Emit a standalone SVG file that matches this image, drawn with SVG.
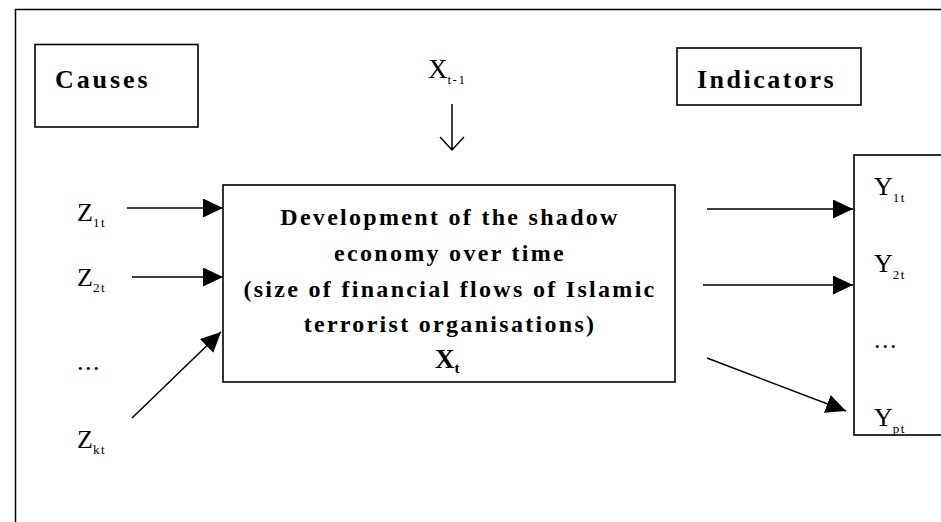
<svg xmlns="http://www.w3.org/2000/svg" width="941" height="522" viewBox="0 0 941 522">
<style>
.box{fill:#fff;stroke:#000;stroke-width:1.6}
.frame{fill:none;stroke:#000;stroke-width:1.5}
.lbl{font-family:"Liberation Serif","Times New Roman",serif;font-weight:bold;font-size:26px;letter-spacing:2.9px;fill:#000}
.main{font-family:"Liberation Serif","Times New Roman",serif;font-weight:bold;font-size:24px;letter-spacing:2.3px;fill:#000;text-anchor:middle}
.var{font-family:"Liberation Serif","Times New Roman",serif;font-size:26px;fill:#000}
.sub{font-size:13px;letter-spacing:1.5px}
.con{stroke:#000;stroke-width:1.5;fill:none}
</style>
<defs>
<marker id="ah" markerUnits="userSpaceOnUse" markerWidth="21" markerHeight="20" refX="20" refY="9.5" orient="auto">
<path d="M0,0 L20,9.5 L0,19 z" fill="#000"/>
</marker>
</defs>
<rect class="frame" x="15.5" y="9.5" width="960" height="540"/>
<g id="causes">
<rect class="box" x="35" y="44.5" width="163" height="82.5"/>
<text class="lbl" x="55" y="88">Causes</text>
</g>
<g id="indicators">
<rect class="box" x="677" y="48" width="184" height="57"/>
<text class="lbl" x="697" y="88" style="letter-spacing:2.5px">Indicators</text>
</g>
<g id="xprev">
<text class="var" x="428" y="78" style="font-size:27px">X<tspan class="sub" dy="6">t-1</tspan></text>
</g>
<g id="shadow">
<rect class="box" x="223" y="185" width="452" height="197"/>
<text class="main" x="450" y="225">Development of the shadow</text>
<text class="main" x="450" y="261">economy over time</text>
<text class="main" x="450" y="297">(size of financial flows of Islamic</text>
<text class="main" x="450" y="332">terrorist organisations)</text>
<text class="var" x="435" y="368" style="font-weight:bold;font-size:27px">X<tspan dy="5" style="font-size:15px">t</tspan></text>
</g>
<g id="z1"><text class="var" x="77" y="221">Z<tspan class="sub" dy="6">1t</tspan></text></g>
<g id="z2"><text class="var" x="77" y="286">Z<tspan class="sub" dy="6">2t</tspan></text></g>
<g id="zdots"><text class="var" x="77" y="370" style="letter-spacing:1.5px">...</text></g>
<g id="zk"><text class="var" x="77" y="448">Z<tspan class="sub" dy="6">kt</tspan></text></g>
<g id="ybox">
<rect class="box" x="854" y="155" width="120" height="280"/>
<text class="var" x="874" y="195">Y<tspan class="sub" dy="7">1t</tspan></text>
<text class="var" x="874" y="272">Y<tspan class="sub" dy="7">2t</tspan></text>
<text class="var" x="874" y="348" style="letter-spacing:1.5px">...</text>
<text class="var" x="874" y="426">Y<tspan class="sub" dy="7">pt</tspan></text>
</g>
<g id="connectors">
<path class="con" d="M452,104 V150 M440,137 L452,150 L464,137"/>
<line class="con" x1="127" y1="208" x2="223" y2="208" marker-end="url(#ah)"/>
<line class="con" x1="132" y1="277" x2="223" y2="277" marker-end="url(#ah)"/>
<line class="con" x1="132" y1="418" x2="221" y2="332" marker-end="url(#ah)"/>
<line class="con" x1="707" y1="209" x2="853" y2="209" marker-end="url(#ah)"/>
<line class="con" x1="703" y1="285" x2="853" y2="285" marker-end="url(#ah)"/>
<line class="con" x1="707" y1="358" x2="846" y2="411" marker-end="url(#ah)"/>
</g>
</svg>
